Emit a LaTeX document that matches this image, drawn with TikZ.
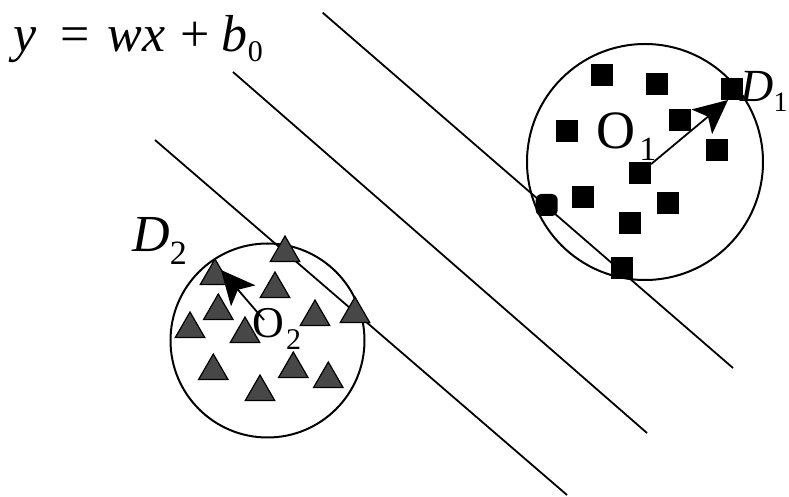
\documentclass[tikz,border=0pt]{standalone}
\usepackage{fontspec}
\setmainfont{Liberation Serif}
\usetikzlibrary{arrows.meta,shapes.geometric}
\newcommand{\lowsub}[3]{\raisebox{-#2}{\fontsize{#1}{#1}\selectfont #3}}
\begin{document}
\begin{tikzpicture}[x=0.5pt,y=-0.5pt,
  sepline/.style={line width=0.9pt},
  ring/.style={line width=1pt},
  sq/.style={fill=black,minimum size=11pt,inner sep=0pt,outer sep=0pt},
  sv/.style={sq,rounded corners=3pt},
  tri/.style={regular polygon,regular polygon sides=3,draw=black,line width=0.6pt,fill=black!72,minimum size=17pt,inner sep=0pt,outer sep=0pt},
  lbl/.style={font=\fontsize{26}{30}\selectfont,inner sep=0pt},
  arr/.style={line width=0.9pt,-{Stealth[length=17pt,width=16pt,inset=4pt]}}
]
\useasboundingbox (0,0) rectangle (789,497);
% separating lines
\coordinate (l1a) at (322.7,12.7); \coordinate (l1b) at (733,368);
\coordinate (l2a) at (233,72);     \coordinate (l2b) at (647,433);
\coordinate (l3a) at (155,140);    \coordinate (l3b) at (567,495);
\draw[sepline] (l1a) -- (l1b);
\draw[sepline] (l2a) -- (l2b);
\draw[sepline] (l3a) -- (l3b);
% circles
\node[ring,draw,circle,minimum size=118pt,inner sep=0pt] (c1) at (645,162) {};
\node[ring,draw,circle,minimum size=97pt,inner sep=0pt] (c2) at (267.5,340.5) {};
% squares
\node[sq] (s1) at (601.7,75) {};
\node[sq] (s2) at (656.7,84) {};
\node[sq] (s3) at (566.7,130.7) {};
\node[sq] (s4) at (680,120) {};
\node[sq] (s5) at (731.7,89.3) {};
\node[sq] (s6) at (716.7,150) {};
\node[sq] (s7) at (640,173.3) {};
\node[sq] (s8) at (583.3,196.7) {};
\node[sq] (s9) at (668.3,203.3) {};
\node[sq] (s10) at (630,223.3) {};
\node[sv] (s11) at (546.7,205) {};
\node[sq] (s12) at (621.7,268.3) {};
% triangles
\node[tri] (t1) at (285,253) {};
\node[tri] (t2) at (215,276) {};
\node[tri] (t3) at (275,289) {};
\node[tri] (t4) at (218.3,311) {};
\node[tri] (t5) at (190,329) {};
\node[tri] (t6) at (245,334) {};
\node[tri] (t7) at (315,317) {};
\node[tri] (t8) at (355,314) {};
\node[tri] (t9) at (213.3,371) {};
\node[tri] (t10) at (260,392) {};
\node[tri] (t11) at (293.3,369) {};
\node[tri] (t12) at (328.3,379) {};
% labels
\node[lbl,anchor=base west] (eq) at (13,52) {\textit{y}\hspace{12pt}=\hspace{9pt}\textit{wx}\hspace{7.5pt}+\hspace{6pt}\textit{b}\lowsub{15pt}{5pt}{0}};
\node[lbl,font=\fontsize{27}{30}\selectfont,anchor=base west] (o1) at (596,149) {O\hspace{2pt}\lowsub{17pt}{6pt}{1}};
\node[lbl,font=\fontsize{22}{26}\selectfont,anchor=base west] (o2) at (252,338) {O\hspace{1pt}\lowsub{15pt}{6pt}{2}};
\node[lbl,font=\fontsize{23}{27}\selectfont,anchor=base east] (d1) at (788,102) {\textit{D}\lowsub{14pt}{5pt}{1}};
\node[lbl,anchor=base west] (d2) at (132,252) {\textit{D}\lowsub{17pt}{6.5pt}{2}};
% radius arrows
\coordinate (tip1) at (728,100);
\coordinate (tip2) at (221,270);
\coordinate (st2) at (264,320);
\draw[arr] (s7) -- (tip1);
\draw[arr] (st2) -- (tip2);
\end{tikzpicture}
\end{document}
